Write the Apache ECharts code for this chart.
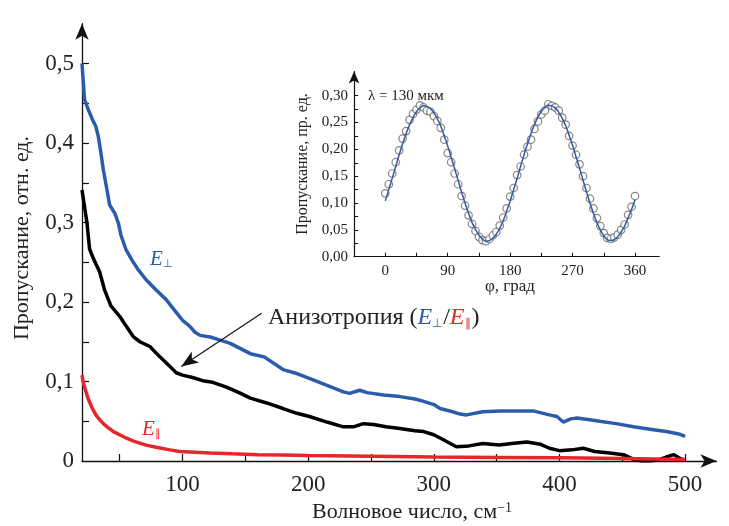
<!DOCTYPE html>
<html>
<head>
<meta charset="utf-8">
<script src="https://cdn.jsdelivr.net/npm/echarts@6/dist/echarts.min.js"></script>
<style>html,body{margin:0;padding:0;background:#fff}#c{width:729px;height:526px}</style>
</head>
<body>
<div id="c"></div>
<script>
// ---- main chart data ----
const waveBlue = [20,22,25,29,31,33,35,37,40,42,46,49,51,55,60,65,71,79,87,95,100,104,106,110,114,122,130,138,154,165,180,191,204,215,228,233,241,247,260,273,285,292,300,305,315,321,326,339,353,365,379,392,398,403,409,414,424,432,445,459,472,485,495,500];
const transBlue = [0.500,0.455,0.442,0.427,0.421,0.408,0.388,0.366,0.340,0.322,0.312,0.299,0.284,0.266,0.252,0.240,0.228,0.215,0.203,0.187,0.177,0.172,0.169,0.162,0.158,0.156,0.152,0.148,0.135,0.131,0.115,0.110,0.102,0.095,0.087,0.085,0.089,0.086,0.083,0.081,0.078,0.075,0.071,0.066,0.062,0.059,0.058,0.062,0.063,0.063,0.063,0.058,0.056,0.049,0.053,0.054,0.052,0.050,0.047,0.043,0.040,0.037,0.034,0.031];

const waveBlack = [20,22,24,26,29,31,34,38,43,50,55,61,66,74,82,90,95,100,108,116,124,135,145,154,167,180,191,201,215,228,236,244,252,262,273,285,292,300,305,312,318,328,339,352,362,374,385,392,400,410,419,428,440,451,459,465,472,480,485,491,495,499];
const transBlack = [0.341,0.320,0.299,0.267,0.255,0.248,0.238,0.215,0.195,0.182,0.170,0.156,0.150,0.144,0.131,0.119,0.111,0.108,0.105,0.101,0.099,0.093,0.086,0.079,0.073,0.066,0.060,0.056,0.049,0.043,0.043,0.047,0.046,0.043,0.041,0.038,0.037,0.033,0.029,0.023,0.018,0.019,0.022,0.020,0.022,0.024,0.021,0.016,0.013,0.014,0.016,0.012,0.010,0.008,0.002,0.000,0.000,0.002,0.005,0.008,0.004,0.001];

const waveRed = [20,21,23,25,28,31,34,37,40,45,50,55,61,71,80,90,98,110,122,140,160,180,200,250,300,350,400,450,500];
const transRed = [0.108,0.099,0.088,0.078,0.067,0.058,0.052,0.047,0.043,0.037,0.033,0.029,0.025,0.020,0.017,0.014,0.012,0.011,0.010,0.009,0.008,0.0075,0.007,0.006,0.005,0.0045,0.004,0.003,0.002];

const mainXTicks = [50,100,150,200,250,300,350,400,450,500];
const mainXLabels = [100,200,300,400,500];
const mainYTicks = [0.05,0.1,0.15,0.2,0.25,0.3,0.35,0.4,0.45,0.5];
const mainYLabels = [0,0.1,0.2,0.3,0.4,0.5];

// arrow annotation (data coordinates): from text to black curve
const arrowFrom = [163, 0.186];
const arrowTo = [99, 0.119];

// ---- inset data ----
const phiDeg = [0,5,10,15,20,25,30,35,40,45,50,55,60,65,70,75,80,85,90,95,100,105,110,115,120,125,130,135,140,145,150,155,160,165,170,175,180,185,190,195,200,205,210,215,220,225,230,235,240,245,250,255,260,265,270,275,280,285,290,295,300,305,310,315,320,325,330,335,340,345,350,355,360];
const measured = [0.118,0.135,0.155,0.176,0.198,0.220,0.234,0.255,0.266,0.274,0.282,0.278,0.272,0.270,0.262,0.253,0.240,0.218,0.193,0.176,0.155,0.135,0.113,0.095,0.077,0.061,0.048,0.037,0.031,0.029,0.033,0.040,0.046,0.058,0.073,0.090,0.112,0.128,0.152,0.168,0.190,0.205,0.218,0.238,0.252,0.265,0.272,0.284,0.281,0.278,0.272,0.259,0.246,0.225,0.207,0.190,0.172,0.150,0.128,0.108,0.090,0.072,0.057,0.044,0.035,0.033,0.036,0.041,0.050,0.060,0.078,0.093,0.113];
const fitted = [0.104,0.125,0.146,0.168,0.190,0.210,0.229,0.246,0.259,0.270,0.277,0.281,0.280,0.276,0.268,0.257,0.243,0.225,0.206,0.185,0.164,0.142,0.120,0.100,0.081,0.064,0.051,0.040,0.033,0.029,0.030,0.034,0.042,0.053,0.067,0.085,0.104,0.125,0.146,0.168,0.190,0.210,0.229,0.246,0.260,0.271,0.278,0.282,0.281,0.277,0.269,0.258,0.244,0.226,0.207,0.186,0.165,0.143,0.121,0.100,0.081,0.064,0.050,0.039,0.032,0.030,0.032,0.037,0.046,0.057,0.072,0.088,0.106];
const insetXTicks = [0,45,90,135,180,225,270,315,360];
const insetXLabels = [0,90,180,270,360];
const insetYTicks = [0.025,0.05,0.075,0.1,0.125,0.15,0.175,0.2,0.225,0.25,0.275,0.3];
const insetYLabels = [0,0.05,0.1,0.15,0.2,0.25,0.3];

const zip = (a, b) => a.map((v, i) => [v, b[i]]);
const SERIF = '"Liberation Serif", "Times New Roman", serif';
const BLUE = '#2b5cab';
const RED = '#e5262a';

const chart = echarts.init(document.getElementById('c'), null, {renderer: 'canvas'});
chart.setOption({
  animation: false,
  backgroundColor: '#fff',
  grid: [
    {left: 82, right: 12.5, top: 23.75, bottom: 65},
    {left: 354.1, right: 69.7, top: 71.5, bottom: 269.3}
  ],
  xAxis: [
    {
      type: 'value', gridIndex: 0, min: 20, max: 525,
      splitLine: {show: false},
      axisLine: {onZero: false, lineStyle: {color: '#111', width: 1.3}, symbol: ['none', 'arrow'], symbolSize: [10, 16]},
      axisTick: {inside: true, length: 7, customValues: mainXTicks, lineStyle: {color: '#111', width: 1.2}},
      axisLabel: {customValues: mainXLabels, margin: 12, color: '#222', fontFamily: SERIF, fontSize: 23}
    },
    {
      type: 'value', gridIndex: 1, min: -45, max: 395,
      splitLine: {show: false},
      axisLine: {onZero: false, lineStyle: {color: '#111', width: 1.2}},
      axisTick: {inside: true, length: 4, customValues: insetXTicks, lineStyle: {color: '#111', width: 1}},
      axisLabel: {customValues: insetXLabels, margin: 7, color: '#222', fontFamily: SERIF, fontSize: 15}
    }
  ],
  yAxis: [
    {
      type: 'value', gridIndex: 0, min: 0, max: 0.55,
      splitLine: {show: false},
      axisLine: {onZero: false, lineStyle: {color: '#111', width: 1.3}, symbol: ['none', 'arrow'], symbolSize: [10, 16]},
      axisTick: {inside: true, length: 7, customValues: mainYTicks, lineStyle: {color: '#111', width: 1.2}},
      axisLabel: {customValues: mainYLabels, margin: 8, color: '#222', fontFamily: SERIF, fontSize: 23,
        formatter: v => v === 0 ? '0' : v.toFixed(1).replace('.', ',')}
    },
    {
      type: 'value', gridIndex: 1, min: 0, max: 0.345,
      splitLine: {show: false},
      axisLine: {onZero: false, lineStyle: {color: '#111', width: 1.2}, symbol: ['none', 'arrow'], symbolSize: [8, 12]},
      axisTick: {inside: true, length: 4, customValues: insetYTicks, lineStyle: {color: '#111', width: 1}},
      axisLabel: {customValues: insetYLabels, margin: 6, color: '#222', fontFamily: SERIF, fontSize: 15,
        formatter: v => v.toFixed(2).replace('.', ',')}
    }
  ],
  series: [
    {
      name: 'E⊥', type: 'line', xAxisIndex: 0, yAxisIndex: 0, data: zip(waveBlue, transBlue),
      showSymbol: false, lineStyle: {color: BLUE, width: 3.5}, silent: true
    },
    {
      name: 'Анизотропия', type: 'line', xAxisIndex: 0, yAxisIndex: 0, data: zip(waveBlack, transBlack),
      showSymbol: false, lineStyle: {color: '#000', width: 3.5}, silent: true,
      markLine: {
        silent: true, symbol: ['none', 'arrow'], symbolSize: [10, 17],
        label: {show: false},
        lineStyle: {color: '#111', width: 1.2, type: 'solid'},
        data: [[{coord: arrowFrom}, {coord: arrowTo}]]
      }
    },
    {
      name: 'E∥', type: 'line', xAxisIndex: 0, yAxisIndex: 0, data: zip(waveRed, transRed),
      showSymbol: false, lineStyle: {color: RED, width: 3.5}, silent: true
    },
    {
      name: 'measured', type: 'scatter', xAxisIndex: 1, yAxisIndex: 1, data: zip(phiDeg, measured),
      symbol: 'circle', symbolSize: 7.5,
      itemStyle: {color: '#fff', borderColor: '#666', borderWidth: 1.2}, silent: true, z: 2
    },
    {
      name: 'fit', type: 'line', xAxisIndex: 1, yAxisIndex: 1, data: zip(phiDeg, fitted),
      showSymbol: false, smooth: true, lineStyle: {color: '#2f5aa6', width: 1.5}, silent: true, z: 3
    }
  ],
  graphic: [
    {type: 'text', x: 22, y: 238, rotation: Math.PI / 2,
      style: {text: 'Пропускание, отн. ед.', font: '22px ' + SERIF, fill: '#222', align: 'center', verticalAlign: 'middle'}},
    {type: 'text', x: 412, y: 512,
      style: {text: '{a|Волновое число, см}{s|−1}', align: 'center', verticalAlign: 'middle', fill: '#222',
        rich: {a: {fontFamily: SERIF, fontSize: 22, fill: '#222'}, s: {fontFamily: SERIF, fontSize: 14, verticalAlign: 'top', fill: '#222'}}}},
    {type: 'text', x: 268, y: 318,
      style: {text: '{a|Анизотропия (}{eb|E}{sb|⊥}{a|/}{er|E}{sr|∥}{a|)}', align: 'left', verticalAlign: 'middle',
        rich: {
          a: {fontFamily: SERIF, fontSize: 24, fill: '#222'},
          eb: {fontFamily: SERIF, fontSize: 24, fontStyle: 'italic', fill: BLUE},
          sb: {fontFamily: SERIF, fontSize: 12, fill: BLUE, verticalAlign: 'bottom', padding: [0, 1, 0, 0]},
          er: {fontFamily: SERIF, fontSize: 24, fontStyle: 'italic', fill: RED},
          sr: {fontFamily: SERIF, fontSize: 12, fill: RED, verticalAlign: 'bottom', padding: [0, 1, 0, 0]}
        }}},
    {type: 'text', x: 150, y: 259,
      style: {text: '{e|E}{s|⊥}', align: 'left', verticalAlign: 'middle',
        rich: {e: {fontFamily: SERIF, fontSize: 21, fontStyle: 'italic', fill: BLUE},
               s: {fontFamily: SERIF, fontSize: 11, fill: BLUE, verticalAlign: 'bottom'}}}},
    {type: 'text', x: 142, y: 429,
      style: {text: '{e|E}{s|∥}', align: 'left', verticalAlign: 'middle',
        rich: {e: {fontFamily: SERIF, fontSize: 21, fontStyle: 'italic', fill: RED},
               s: {fontFamily: SERIF, fontSize: 11, fill: RED, verticalAlign: 'bottom'}}}},
    {type: 'text', x: 368, y: 96,
      style: {text: 'λ = 130 мкм', font: '15px ' + SERIF, fill: '#222', align: 'left', verticalAlign: 'middle'}},
    {type: 'text', x: 510, y: 287,
      style: {text: 'φ, град', font: '17px ' + SERIF, fill: '#222', align: 'center', verticalAlign: 'middle'}},
    {type: 'text', x: 303, y: 164, rotation: Math.PI / 2,
      style: {text: 'Пропускание, пр. ед.', font: '16px ' + SERIF, fill: '#222', align: 'center', verticalAlign: 'middle'}}
  ]
});
</script>
</body>
</html>
